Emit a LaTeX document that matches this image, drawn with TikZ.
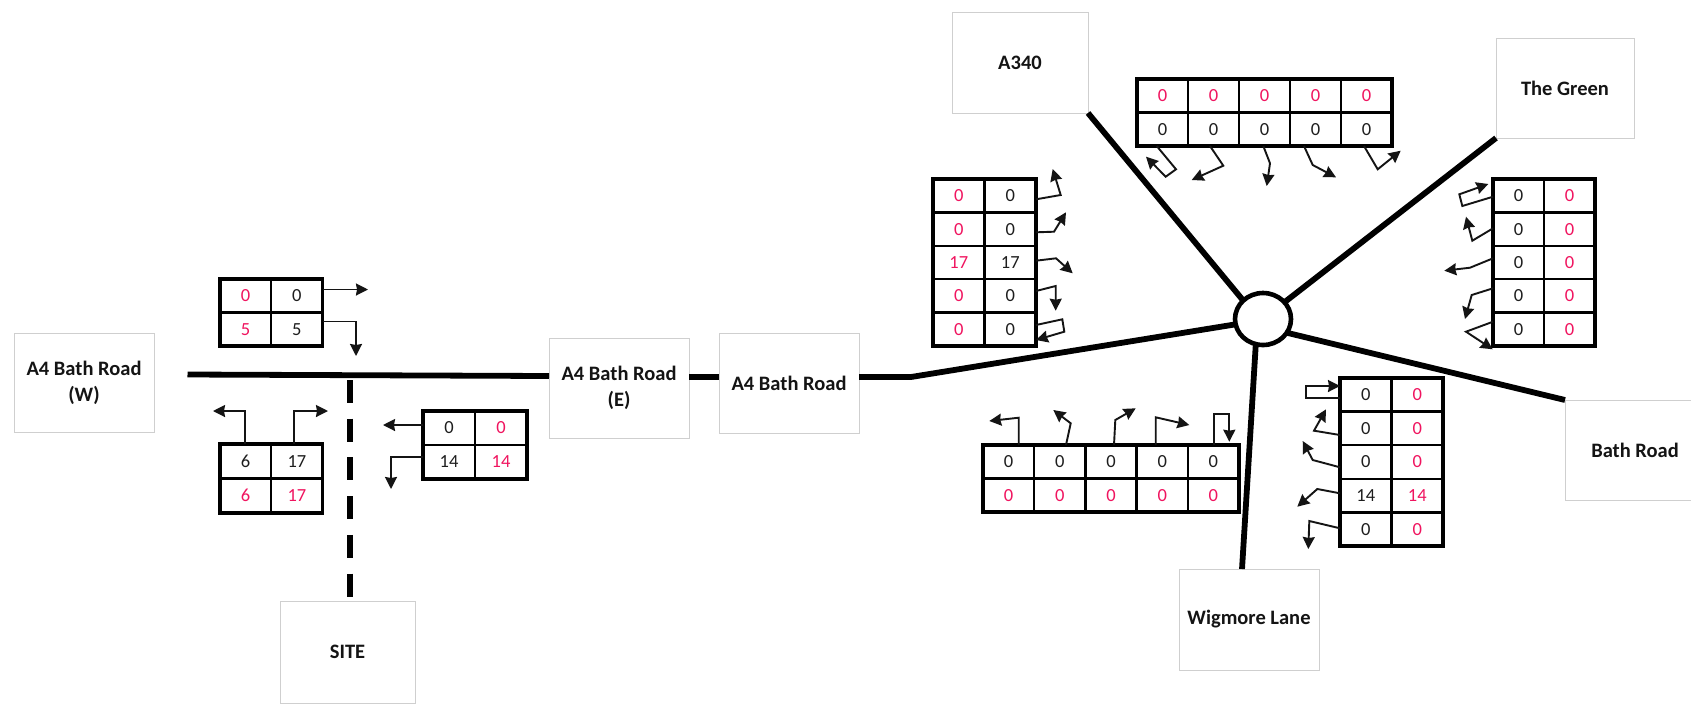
\documentclass[tikz,border=0pt]{standalone}
\usepackage{fontspec}
\setmainfont{Carlito}
\usetikzlibrary{arrows.meta,shapes.geometric}
\definecolor{pinknum}{HTML}{F0145F}
\definecolor{knum}{HTML}{1E1E1E}
\definecolor{boxline}{HTML}{CFCFCF}
\tikzset{
  armbox/.style={draw=boxline,line width=1pt,fill=white,inner sep=0pt,outer sep=0pt,align=center,font=\fontsize{20.5}{26}\selectfont\bfseries,text=black!92},
  road/.style={line width=5.8pt,draw=black},
  siteroad/.style={line width=6pt,draw=black,dash pattern=on 23pt off 15.7pt},
  flow/.style={line width=1.9pt,draw=black!92,-{Stealth[inset=1pt,length=12pt,width=12pt]}},
  cellk/.style={text=knum},
  cellr/.style={text=pinknum},
  cellbase/.style={draw=black,line width=2.4pt,inner sep=0pt,outer sep=0pt,font=\fontsize{18.5}{20}\selectfont},
  tabframe/.style={draw=black,line width=3.2pt}
}
% name, x0, y0, x1, y1, cols, rows, list of style/text
\newcommand{\flowtable}[8]{%
  \pgfmathsetmacro{\cw}{(#4-#2)/#6}%
  \pgfmathsetmacro{\ch}{(#5-#3)/#7}%
  \foreach \st/\tx [count=\i from 0] in {#8}{%
    \pgfmathtruncatemacro{\cc}{mod(\i,#6)+1}%
    \pgfmathtruncatemacro{\rr}{int(\i/#6)+1}%
    \node[cellbase,cell\st,minimum width=\cw pt,minimum height=\ch pt] (#1-\rr-\cc)
      at ({#2+(\cc-0.5)*\cw},{#3+(\rr-0.5)*\ch}) {\tx};
  }%
  \draw[tabframe] (#1-1-1.north west) rectangle (#1-#7-#6.south east);
}
\newcommand{\armnode}[6]{%
  \node[armbox,minimum width=#4pt-#2pt,minimum height=#5pt-#3pt] (#1) at ({(#2+#4)/2},{(#3+#5)/2}) {#6};
}
\begin{document}
\begin{tikzpicture}[x=1pt,y=-1pt]
\useasboundingbox (0,0) rectangle (1691,705);
\clip (0,0) rectangle (1691,705);
\fill[white] (0,0) rectangle (1691,705);
% arm boxes
\armnode{a4w}{14}{333}{154}{432}{A4 Bath Road\\(W)}
\armnode{a4e}{549}{338}{689}{438}{A4 Bath Road\\(E)}
\armnode{a4b}{719}{333}{859}{433}{A4 Bath Road}
\armnode{site}{280}{601}{415}{703}{SITE}
\armnode{a340}{952}{12}{1088}{113}{A340}
\armnode{green}{1496}{38}{1634}{138}{The Green}
\armnode{wig}{1179}{569}{1319}{670}{Wigmore Lane}
\armnode{bath}{1565}{400}{1705}{500}{Bath Road}
% roundabout
\node[ellipse,draw=black,line width=4.6pt,fill=white,minimum width=56pt,minimum height=52pt,inner sep=0pt,outer sep=0pt] (rb) at (1263,319) {};
% roads
\coordinate (rw) at (187.5,374.5);
\coordinate (rk) at (911,377);
\coordinate (st) at (349.5,380);
\draw[road] (rw) -- (a4e.west |- 0,376);
\draw[road] (a4e.east |- 0,377) -- (a4b.west |- 0,377);
\draw[road] (a4b.east |- 0,377) -- (rk) -- (rb.191);
\draw[road] (a340.south east) -- (rb.137);
\draw[road] (green.south west) -- (rb.38);
\draw[road] (rb.-30) -- (bath.north west);
\draw[road] (rb.-106) -- (wig.north -| 1242,0);
\draw[siteroad] (st) -- (site.north -| st);
% tables
\flowtable{t1}{220}{279}{322.5}{346}{2}{2}{r/0,k/0,r/5,k/5}
\flowtable{t2}{220}{444}{322.5}{513}{2}{2}{k/6,k/17,r/6,r/17}
\flowtable{t3}{423}{411}{527}{479}{2}{2}{k/0,r/0,k/14,r/14}
\flowtable{t4}{1137}{79}{1392}{146}{5}{2}{r/0,r/0,r/0,r/0,r/0,k/0,k/0,k/0,k/0,k/0}
\flowtable{t5}{933}{179}{1036}{346}{2}{5}{r/0,k/0,r/0,k/0,r/17,k/17,r/0,k/0,r/0,k/0}
\flowtable{t6}{1493}{179}{1595}{346}{2}{5}{k/0,r/0,k/0,r/0,k/0,r/0,k/0,r/0,k/0,r/0}
\flowtable{t7}{983}{445}{1239}{512}{5}{2}{k/0,k/0,k/0,k/0,k/0,r/0,r/0,r/0,r/0,r/0}
\flowtable{t8}{1340}{378}{1443}{546}{2}{5}{k/0,r/0,k/0,r/0,k/0,r/0,k/14,r/14,k/0,r/0}
% T1
\draw[flow] (t1-1-2.east |- 0,289.5) -- (368,289.5);
\draw[flow] (t1-2-2.east |- 0,321.5) -- (356,321.5) -- (356,356);
% T2
\draw[flow] (t2-1-1.north -| 245,0) -- (245,411) -- (213,411);
\draw[flow] (t2-1-2.north -| 293.6,0) -- (293.6,411) -- (328,411);
% T3
\draw[flow] (t3-1-1.west |- 0,425) -- (383,425);
\draw[flow] (t3-2-1.west |- 0,457) -- (391,457) -- (391,489);
% T4
\draw[flow] (t4-2-1.south -| 1156.7,0) -- (1176,169.3) -- (1165.7,176.7) -- (1146,156.7);
\draw[flow] (t4-2-2.south -| 1210,0) -- (1223.3,165.7) -- (1191.7,180);
\draw[flow] (t4-2-3.south -| 1263.3,0) -- (1270,163.3) -- (1266.7,186);
\draw[flow] (t4-2-4.south -| 1304,0) -- (1312.7,165) -- (1336,177.3);
\draw[flow] (t4-2-5.south -| 1364,0) -- (1377.7,169.3) -- (1400.7,150.7);
% T5
\draw[flow] (t5-1-2.east |- 0,199.3) -- (1060.7,195) -- (1052.7,169);
\draw[flow] (t5-2-2.east |- 0,232.3) -- (1054,231.7) -- (1066,212.3);
\draw[flow] (t5-3-2.east |- 0,260.7) -- (1056,258.3) -- (1072.7,273.3);
\draw[flow] (t5-4-2.east |- 0,291) -- (1055.7,286) -- (1055.7,310.7);
\draw[flow] (t5-5-2.east |- 0,325) -- (1062.3,319.3) -- (1064.3,331.7) -- (t5-5-2.east |- 0,340);
% T6
\draw[flow] (t6-1-1.west |- 0,196.7) -- (1462.3,206) -- (1459.3,194.3) -- (1488.3,184);
\draw[flow] (t6-2-1.west |- 0,228.3) -- (1472.3,240.7) -- (1466,216.7);
\draw[flow] (t6-3-1.west |- 0,258.3) -- (1470,267.7) -- (1444.3,270.7);
\draw[flow] (t6-4-1.west |- 0,288.3) -- (1471.7,295) -- (1465,319);
\draw[flow] (t6-5-1.west |- 0,321.7) -- (1466,331.7) -- (1492.7,349.3);
% T7
\draw[flow] (t7-1-1.north -| 1018.7,0) -- (1018.7,417.7) -- (989.3,421);
\draw[flow] (t7-1-2.north -| 1066,0) -- (1070.7,423.3) -- (1053.3,410);
\draw[flow] (t7-1-3.north -| 1114,0) -- (1115.3,420) -- (1135.7,408.3);
\draw[flow] (t7-1-4.north -| 1155.7,0) -- (1155.7,417.3) -- (1189.3,425);
\draw[flow] (t7-1-5.north -| 1214,0) -- (1214,414) -- (1229.3,414) -- (1229.3,441.7);
% T8
\draw[flow] (t8-1-1.west |- 0,398.3) -- (1305.7,398.3) -- (1305.7,386) -- (t8-1-1.west |- 0,386);
\draw[flow] (t8-2-1.west |- 0,435) -- (1314,430.7) -- (1326,409.3);
\draw[flow] (t8-3-1.west |- 0,467.3) -- (1312.7,460) -- (1302.7,441);
\draw[flow] (t8-4-1.west |- 0,493.3) -- (1317.3,489) -- (1297.3,506.7);
\draw[flow] (t8-5-1.west |- 0,528.3) -- (1309.3,521) -- (1308.3,549);
\end{tikzpicture}
\end{document}
